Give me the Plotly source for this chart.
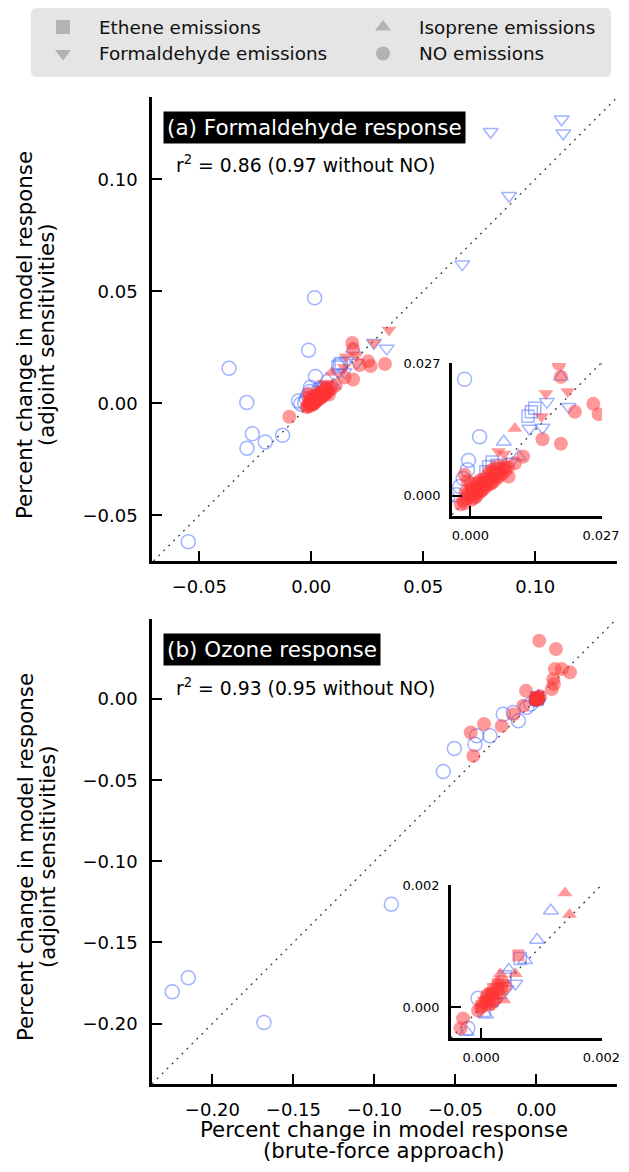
import plotly.graph_objects as go

# ---------------- data (panel a: formaldehyde response) ----------------
a_no_open_x = [0.0015, -0.0367, -0.0012, -0.0288, -0.0263, -0.0287, -0.0205, -0.0128, -0.0549,
               0.0019, -0.0004, -0.0006, -0.0022, -0.0029, -0.0057, -0.0047, -0.0015]
a_no_open_y = [0.0471, 0.0156, 0.0237, 0.0003, -0.0136, -0.0201, -0.0173, -0.0143, -0.0618,
               0.0120, 0.0072, 0.0053, 0.0019, 0.0002, 0.0010, -0.0003, 0.0035]
a_no_fill_x = [-0.0098, 0.0183, 0.0187, 0.0254, 0.0265, 0.0329, 0.0216, 0.0149, 0.0187, 0.0109,
               0.0092, 0.0079, -0.0012, -0.0020,
               -0.0015, -0.0008, -0.0005, 0.0000, 0.0003, 0.0006, 0.0010, 0.0012, 0.0015, 0.0018,
               0.0022, 0.0025, 0.0028, 0.0032, 0.0035, 0.0040, 0.0043, 0.0048, 0.0052, 0.0056,
               0.0060, 0.0065, 0.0068, 0.0072, 0.0004, 0.0000, -0.0006, 0.0020, 0.0040, 0.0058,
               0.0005, 0.0015, 0.0025, 0.0035, 0.0045, 0.0055, 0.0012, 0.0022, 0.0033, 0.0045,
               0.0058, 0.0070, 0.0078, -0.0010, -0.0012, 0.0008, 0.0002]
a_no_fill_y = [-0.0060, 0.0269, 0.0242, 0.0187, 0.0166, 0.0175, 0.0171, 0.0115, 0.0106, 0.0080,
               0.0066, 0.0039, 0.0043, -0.0017,
               -0.0010, -0.0005, 0.0005, 0.0000, -0.0008, 0.0004, 0.0010, -0.0002, 0.0016, 0.0006,
               0.0020, 0.0012, 0.0026, 0.0018, 0.0030, 0.0024, 0.0036, 0.0030, 0.0042, 0.0036,
               0.0048, 0.0044, 0.0056, 0.0050, 0.0016, 0.0025, 0.0030, 0.0032, 0.0050, 0.0060,
               0.0012, 0.0025, 0.0032, 0.0041, 0.0047, 0.0052, 0.0003, 0.0010, 0.0022, 0.0026,
               0.0040, 0.0060, 0.0058, 0.0008, -0.0015, -0.0004, 0.0008]
a_form_open_x = [0.0801, 0.1118, 0.1125, 0.0883, 0.0674, 0.0337, 0.0280, 0.0203, 0.0158, 0.0149,
                 0.0122, 0.0060, 0.0085]
a_form_open_y = [0.1212, 0.1268, 0.1205, 0.0926, 0.0621, 0.0245, 0.0270, 0.0181, 0.0191, 0.0139,
                 0.0137, 0.0060, 0.0070]
a_form_fill_x = [0.0347, 0.0280, 0.0156, 0.0201, 0.0147, 0.0058, 0.0070, 0.0030]
a_form_fill_y = [0.0327, 0.0270, 0.0208, 0.0212, 0.0161, 0.0090, 0.0085, 0.0030]
a_iso_open_x = [0.0187, 0.0069, 0.0100, 0.0040, 0.0015]
a_iso_open_y = [0.0242, 0.0110, 0.0080, 0.0035, 0.0010]
a_iso_fill_x = [0.0092, 0.0045, 0.0025]
a_iso_fill_y = [0.0137, 0.0060, 0.0020]
a_eth_open_x = [0.0126, 0.0119, 0.0133, 0.0038, 0.0032, 0.0045, 0.0055, 0.0020]
a_eth_open_y = [0.0171, 0.0162, 0.0178, 0.0059, 0.0049, 0.0069, 0.0062, 0.0025]
a_eth_fill_x = [0.0010, 0.0030, 0.0050]
a_eth_fill_y = [0.0012, 0.0028, 0.0046]

# ---------------- data (panel b: ozone response) ----------------
b_no_open_x = [-0.0896, -0.2149, -0.2248, -0.1682, -0.0575, -0.0507, -0.0380, -0.0369, -0.0287,
               -0.0205, -0.0143, -0.0112, -0.0060, -0.0035, -0.00022, -0.00005]
b_no_open_y = [-0.1265, -0.1718, -0.1804, -0.1994, -0.0447, -0.0305, -0.0278, -0.0226, -0.0226,
               -0.0093, -0.0082, -0.0134, -0.0051, -0.0030, -0.00034, 0.00015]
b_no_fill_x = [0.0017, 0.0120, 0.0114, 0.0156, 0.0207, 0.0104, 0.0108, 0.0094, -0.0065, 0.0022,
               -0.0081, -0.0143, -0.0215, -0.0324, -0.0406, -0.0390, -0.00030, -0.00034, 0.0000,
               0.0001, 0.0002, 0.00005, 0.00012, 0.00020, 0.00028, 0.00035, 0.00040, -0.00005,
               0.00015, 0.00025]
b_no_fill_y = [0.0360, 0.0309, 0.0185, 0.0185, 0.0165, 0.0123, 0.0093, 0.0062, 0.0051, 0.0020,
               -0.0041, -0.0093, -0.0165, -0.0154, -0.0206, -0.0350, -0.00018, -0.00034, 0.0000,
               0.0002, 0.0001, 0.00008, 0.00020, 0.00025, 0.00030, 0.00042, 0.00035, -0.00005,
               0.00005, 0.00015]
b_form_open_x = [0.00057, 0.00042, 0.00025]
b_form_open_y = [0.00039, 0.00030, 0.00010]
b_form_fill_x = [0.00030, 0.00015, 0.00005]
b_form_fill_y = [0.00022, 0.00008, 0.00012]
b_iso_open_x = [0.00116, 0.00093, 0.00073, 0.00046, -0.00024, 0.00008, 0.00030]
b_iso_open_y = [0.00158, 0.00110, 0.00077, 0.00061, -0.00040, -0.00012, 0.00020]
b_iso_fill_x = [0.001395, 0.00147, 0.00057, 0.00032, 0.00038, 0.00022, 0.00010, 0.00026]
b_iso_fill_y = [0.00187, 0.00152, 0.00055, 0.00055, 0.00012, 0.00018, 0.00015, 0.00042]
b_eth_open_x = [0.00065, 0.00040, 0.00018, 0.00005]
b_eth_open_y = [0.00080, 0.00050, 0.00012, -0.00005]
b_eth_fill_x = [0.00062, 0.00016, 0.00000, 0.00008, 0.00020, 0.00028, 0.00012, 0.00035]
b_eth_fill_y = [0.00085, 0.00023, 0.00002, 0.00010, 0.00030, 0.00038, 0.00005, 0.00030]

# axis ranges / ticks
a_range_x = [-0.0711, 0.1365]
a_range_y = [-0.0704, 0.1367]
a_ticks = [-0.05, 0.0, 0.05, 0.10]
a_ticktext = ["\u22120.05", "0.00", "0.05", "0.10"]
ai_range_x = [-0.0038, 0.0272]
ai_range_y = [-0.0041, 0.0270]
ai_ticks = [0.0, 0.027]
ai_ticktext = ["0.000", "0.027"]
b_range_x = [-0.2373, 0.0497]
b_range_y = [-0.2373, 0.0494]
b_ticks = [-0.20, -0.15, -0.10, -0.05, 0.0]
b_ticktext = ["\u22120.20", "\u22120.15", "\u22120.10", "\u22120.05", "0.00"]
bi_range_x = [-0.0005, 0.00201]
bi_range_y = [-0.0005, 0.0020]
bi_ticks = [0.0, 0.002]
bi_ticktext = ["0.000", "0.002"]

legend_names = ["Ethene emissions", "Isoprene emissions", "Formaldehyde emissions", "NO emissions"]
legend_kinds = ["eth", "iso", "form", "no"]

# ---------------- figure ----------------
PAGE_W, PAGE_H = 629, 1172
BODY = 8                      # default page margin around the plot div
W, H = PAGE_W - 2 * BODY, PAGE_H - 2 * BODY
FONT = "DejaVu Sans"
RED = "rgba(255,51,51,0.5)"
BLUE = "rgba(65,105,255,0.5)"
SYM = {"eth": "square", "form": "triangle-down", "iso": "triangle-up", "no": "circle"}
SIZE = {"eth": 12, "form": 13, "iso": 13, "no": 14}


def clamp(v):
    return min(1.0, max(0.0, v))


def pxx(p):
    return clamp((p - BODY) / W)


def pxy(p):
    return clamp(1 - (p - BODY) / H)


fig = go.Figure()


def add_points(xa, ya, x, y, kind, filled):
    if filled:
        marker = dict(symbol=SYM[kind], size=SIZE[kind], color=RED, line=dict(width=0))
    else:
        marker = dict(symbol=SYM[kind] + "-open", size=SIZE[kind], color=BLUE,
                      line=dict(width=1.5, color=BLUE))
    fig.add_trace(go.Scatter(x=x, y=y, mode="markers", marker=marker, showlegend=False,
                             xaxis=xa, yaxis=ya, hoverinfo="skip", cliponaxis=True))


def add_one_to_one(xa, ya, rng_x, rng_y):
    lo = max(rng_x[0], rng_y[0])
    hi = min(rng_x[1], rng_y[1])
    fig.add_trace(go.Scatter(x=[lo, hi], y=[lo, hi], mode="lines",
                             line=dict(color="#333333", width=1.2, dash="2px,5px"),
                             showlegend=False, xaxis=xa, yaxis=ya, hoverinfo="skip"))


panel_a = [
    ("no", a_no_open_x, a_no_open_y, a_no_fill_x, a_no_fill_y),
    ("eth", a_eth_open_x, a_eth_open_y, a_eth_fill_x, a_eth_fill_y),
    ("form", a_form_open_x, a_form_open_y, a_form_fill_x, a_form_fill_y),
    ("iso", a_iso_open_x, a_iso_open_y, a_iso_fill_x, a_iso_fill_y),
]
panel_b = [
    ("no", b_no_open_x, b_no_open_y, b_no_fill_x, b_no_fill_y),
    ("eth", b_eth_open_x, b_eth_open_y, b_eth_fill_x, b_eth_fill_y),
    ("form", b_form_open_x, b_form_open_y, b_form_fill_x, b_form_fill_y),
    ("iso", b_iso_open_x, b_iso_open_y, b_iso_fill_x, b_iso_fill_y),
]

for (xa, ya, panel, rx, ry) in [("x", "y", panel_a, a_range_x, a_range_y),
                                ("x2", "y2", panel_a, ai_range_x, ai_range_y),
                                ("x3", "y3", panel_b, b_range_x, b_range_y),
                                ("x4", "y4", panel_b, bi_range_x, bi_range_y)]:
    add_one_to_one(xa, ya, rx, ry)
    for kind, ox, oy, fx, fy in panel:       # open (blue) markers first
        add_points(xa, ya, ox, oy, kind, False)
    for kind, ox, oy, fx, fy in panel:       # filled (red) markers on top
        add_points(xa, ya, fx, fy, kind, True)

# ---- legend drawn on its own hidden axis (pixel units inside the grey box) ----
LBOX = (31, 611, 8, 77)             # left, right, top, bottom in page pixels
leg_col_x = [63, 383]
leg_row_y = [27, 53.5]
leg_text_gap = 34
LEG_SIZE = {"eth": 14, "form": 14, "iso": 14, "no": 14}
for i, (name, kind) in enumerate(zip(legend_names, legend_kinds)):
    cx = leg_col_x[i % 2]
    cy = leg_row_y[i // 2]
    fig.add_trace(go.Scatter(x=[cx], y=[cy], mode="markers", showlegend=False, hoverinfo="skip",
                             marker=dict(symbol=SYM[kind], size=LEG_SIZE[kind],
                                         color="#b3b3b3", line=dict(width=0)),
                             xaxis="x5", yaxis="y5", cliponaxis=False))


def axis_style(dom, rng, ticks, text, anchor, fsize, tlen, standoff):
    return dict(domain=dom, range=rng, tickvals=ticks, ticktext=text, anchor=anchor,
                showgrid=False, zeroline=False, showline=True, linecolor="black",
                linewidth=2.5, ticks="inside", ticklen=tlen, tickwidth=1.5,
                tickcolor="black", mirror=False, ticklabelstandoff=standoff,
                automargin=False,
                tickfont=dict(family=FONT, size=fsize, color="black"))


hidden = dict(visible=False, showgrid=False, zeroline=False, fixedrange=True, automargin=False)

fig.update_layout(
    width=W, height=H,
    margin=dict(l=0, r=0, t=0, b=0, autoexpand=False),
    paper_bgcolor="white", plot_bgcolor="rgba(0,0,0,0)",
    font=dict(family=FONT, color="black"),
    showlegend=False,
    xaxis=axis_style([pxx(152), pxx(617)], a_range_x, a_ticks, a_ticktext, "y", 18, 10, 8),
    yaxis=axis_style([pxy(561), pxy(97)], a_range_y, a_ticks, a_ticktext, "x", 18, 10, 8),
    xaxis2=axis_style([pxx(452), pxx(602)], ai_range_x, ai_ticks, ai_ticktext, "y2", 13, 10, 6),
    yaxis2=axis_style([pxy(516), pxy(363)], ai_range_y, ai_ticks, ai_ticktext, "x2", 13, 10, 6),
    xaxis3=axis_style([pxx(152), pxx(617)], b_range_x, b_ticks, b_ticktext, "y3", 18, 10, 8),
    yaxis3=axis_style([pxy(1084), pxy(619)], b_range_y, b_ticks, b_ticktext, "x3", 18, 10, 8),
    xaxis4=axis_style([pxx(451), pxx(602)], bi_range_x, bi_ticks, bi_ticktext, "y4", 13, 10, 6),
    yaxis4=axis_style([pxy(1038), pxy(885)], bi_range_y, bi_ticks, bi_ticktext, "x4", 13, 10, 6),
    xaxis5=dict(hidden, domain=[pxx(LBOX[0]), pxx(LBOX[1])], range=[LBOX[0], LBOX[1]], anchor="y5"),
    yaxis5=dict(hidden, domain=[pxy(LBOX[3]), pxy(LBOX[2])], range=[LBOX[3], LBOX[2]], anchor="x5"),
)

# rounded grey legend frame
x0, x1, y0, y1 = LBOX
r = 6
path = (f"M {pxx(x0 + r)} {pxy(y0)} L {pxx(x1 - r)} {pxy(y0)} Q {pxx(x1)} {pxy(y0)} {pxx(x1)} {pxy(y0 + r)} "
        f"L {pxx(x1)} {pxy(y1 - r)} Q {pxx(x1)} {pxy(y1)} {pxx(x1 - r)} {pxy(y1)} "
        f"L {pxx(x0 + r)} {pxy(y1)} Q {pxx(x0)} {pxy(y1)} {pxx(x0)} {pxy(y1 - r)} "
        f"L {pxx(x0)} {pxy(y0 + r)} Q {pxx(x0)} {pxy(y0)} {pxx(x0 + r)} {pxy(y0)} Z")
fig.add_shape(type="path", path=path, xref="paper", yref="paper",
              fillcolor="#e5e5e5", line=dict(width=0), layer="below")

ann = []
for i, name in enumerate(legend_names):
    ann.append(dict(text=name, x=leg_col_x[i % 2] + leg_text_gap, y=leg_row_y[i // 2],
                    xref="x5", yref="y5", xanchor="left", yanchor="middle", showarrow=False,
                    font=dict(family=FONT, size=18.4, color="#111111")))
# panel labels
ann.append(dict(text="(a) Formaldehyde response", x=pxx(163), y=pxy(111), xanchor="left", yanchor="top",
                showarrow=False, xref="paper", yref="paper", bgcolor="black", borderpad=3,
                font=dict(family=FONT, size=21.5, color="white")))
ann.append(dict(text="(b) Ozone response", x=pxx(163), y=pxy(633), xanchor="left", yanchor="top",
                showarrow=False, xref="paper", yref="paper", bgcolor="black", borderpad=3,
                font=dict(family=FONT, size=21.5, color="white")))
ann.append(dict(text="r<sup>2</sup> = 0.86 (0.97 without NO)", x=pxx(174), y=pxy(164), xanchor="left",
                yanchor="middle", showarrow=False, xref="paper", yref="paper",
                font=dict(family=FONT, size=18.8, color="black")))
ann.append(dict(text="r<sup>2</sup> = 0.93 (0.95 without NO)", x=pxx(174), y=pxy(687), xanchor="left",
                yanchor="middle", showarrow=False, xref="paper", yref="paper",
                font=dict(family=FONT, size=18.8, color="black")))
# axis titles
for cy in (335, 857):
    ann.append(dict(text="Percent change in model response", x=pxx(25), y=pxy(cy), textangle=-90,
                    xanchor="center", yanchor="middle", showarrow=False, xref="paper", yref="paper",
                    font=dict(family=FONT, size=21.3, color="black")))
    ann.append(dict(text="(adjoint sensitivities)", x=pxx(47), y=pxy(cy), textangle=-90,
                    xanchor="center", yanchor="middle", showarrow=False, xref="paper", yref="paper",
                    font=dict(family=FONT, size=21.3, color="black")))
ann.append(dict(text="Percent change in model response", x=pxx(384), y=pxy(1129), xanchor="center",
                yanchor="middle", showarrow=False, xref="paper", yref="paper",
                font=dict(family=FONT, size=21.3, color="black")))
ann.append(dict(text="(brute-force approach)", x=pxx(384), y=pxy(1150), xanchor="center",
                yanchor="middle", showarrow=False, xref="paper", yref="paper",
                font=dict(family=FONT, size=21.3, color="black")))
fig.update_layout(annotations=ann)

fig.write_html("out.html")
